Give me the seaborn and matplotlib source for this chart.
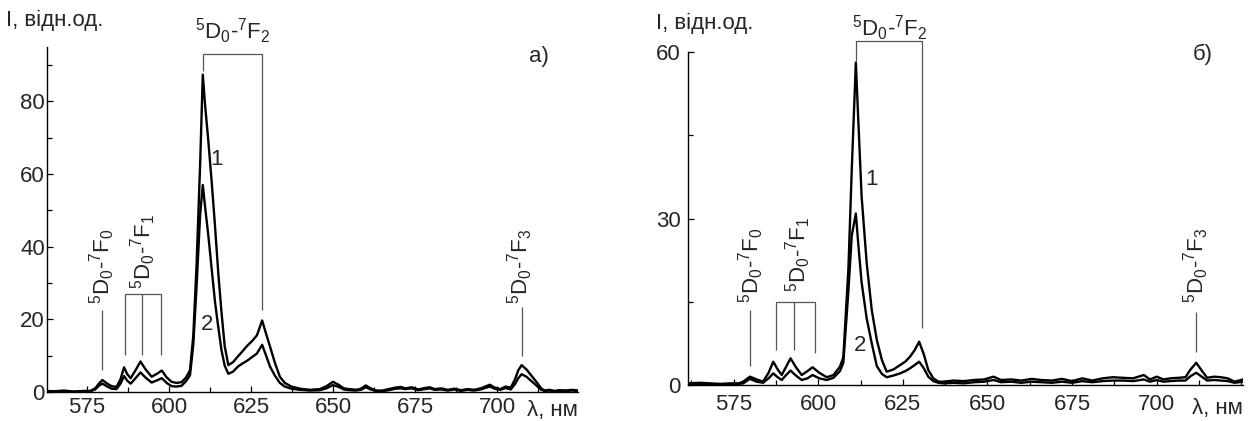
import matplotlib
matplotlib.use("Agg")
import matplotlib.pyplot as plt
from matplotlib.ticker import AutoMinorLocator
import seaborn as sns
import pandas as pd

# ---------------- data (panel a) ----------------
wl_a = [562.5, 565, 568, 571, 574, 576, 577.5, 578.7, 579.7, 581, 582.5, 584, 585.2, 586.3,
        587.2, 588.3, 589.8, 591.3, 592.8, 594.7, 596.3, 597.8, 599.3, 600.8, 602.3, 603.8,
        605.2, 606.4, 607.4, 608.4, 609.5, 610.3, 611, 612, 613, 614, 615, 616, 617, 618.1,
        619.5, 621, 622.3, 623.8, 625.3, 626.8, 628.4, 629.6, 630.8, 632.3, 633.8, 635.3,
        637.3, 640, 643, 646, 648, 650, 651.7, 653.3, 655, 657, 658.5, 660, 661.5, 663, 665,
        667, 669, 670.7, 672, 674, 676, 678, 679.5, 681, 683, 685, 687, 689, 691, 693, 695,
        697.8, 699.3, 701, 702.6, 704.2, 705.5, 706.5, 707.5, 709, 710.5, 712, 713.5, 714.5,
        716, 717.5, 719, 721, 723, 724.7]
a_curve1 = [0.3, 0.2, 0.4, 0.1, 0.3, 0.3, 1.0, 2.4, 3.3, 2.4, 1.6, 1.4, 3.5, 6.8,
            5.0, 3.8, 6.0, 8.4, 6.3, 4.2, 5.0, 5.9, 4.0, 2.8, 2.5, 2.7,
            4.0, 6.0, 15.5, 35, 63, 87.4, 79, 69, 58, 46, 33, 22, 12.5, 7.4,
            8.2, 9.8, 11.1, 12.7, 14.0, 15.6, 19.7, 16, 12.5, 8, 4.2, 2.5,
            1.5, 0.9, 0.6, 0.8, 1.6, 2.8, 2.0, 1.0, 0.8, 0.6, 0.9, 1.8, 1.0, 0.4, 0.4,
            0.8, 1.2, 1.4, 1.0, 1.3, 0.7, 1.1, 1.3, 0.8, 1.0, 0.6, 0.9, 0.5, 0.8, 0.6, 1.0,
            2.0, 1.2, 0.8, 1.5, 1.2, 3.5, 6.0, 7.4, 6.2, 4.5, 2.8, 1.0, 0.4,
            0.6, 0.3, 0.5, 0.4, 0.6, 0.4]
a_curve2 = [0.2, 0.1, 0.2, 0.1, 0.2, 0.2, 0.7, 1.8, 2.3, 1.6, 0.9, 0.8, 2.3, 4.4,
            3.2, 2.3, 3.8, 5.4, 4.0, 2.6, 3.2, 3.8, 2.5, 1.6, 1.5, 1.7,
            3.0, 4.6, 13, 29, 49, 57, 51, 43, 34, 25, 18, 11.5, 7.2, 5,
            5.6, 7.0, 7.8, 8.6, 9.6, 10.6, 13, 10, 7, 4.5, 2.5, 1.5,
            0.9, 0.6, 0.4, 0.5, 1.0, 1.9, 1.4, 0.7, 0.5, 0.4, 0.6, 1.3, 0.7, 0.3, 0.2,
            0.5, 0.9, 1.0, 0.8, 1.0, 0.5, 0.8, 1.0, 0.6, 0.7, 0.4, 0.7, 0.3, 0.6, 0.4, 0.7,
            1.5, 0.9, 0.6, 1.1, 0.7, 2.2, 3.8, 4.9, 4.2, 3.0, 1.8, 0.6, 0.3,
            0.4, 0.2, 0.3, 0.3, 0.4, 0.3]

# ---------------- data (panel b) ----------------
wl_b = [561.5, 565, 568, 571, 574, 576.5, 577.8, 579.8, 581.8, 583.7, 585.3, 586.7, 588,
        589.2, 590.5, 591.8, 593.4, 595.1, 596.8, 598.3, 600.3, 602.5, 604.5, 606.4, 607.4,
        608.9, 609.9, 611.1, 611.8, 612.8, 614.3, 615.8, 617.3, 618.8, 620.2, 622.2, 624.2,
        625.7, 627.1, 628.5, 629.8, 631.2, 632.5, 634, 635.5, 637, 640, 643, 646, 649,
        651.8, 654, 657, 660, 663, 666, 669, 672, 675, 678, 681, 684, 687, 690, 693, 696.2,
        698, 700, 702, 704, 706.5, 708.5, 710, 711.7, 713.3, 714.9, 717, 719, 721, 723, 725.5]
b_curve1 = [0.3, 0.4, 0.3, 0.2, 0.3, 0.3, 0.6, 1.5, 1.0, 0.6, 2.2, 4.2, 2.8,
            1.8, 3.3, 4.8, 3.2, 1.8, 2.5, 3.2, 2.2, 1.4, 1.8, 3.3, 5.0,
            21, 39, 58.1, 48, 34, 22, 13.5, 8.1, 4.5, 2.4, 2.8, 3.6,
            4.2, 5.1, 6.3, 7.8, 5.5, 2.7, 1.2, 0.6, 0.6, 0.8, 0.7, 0.9, 1.0,
            1.5, 0.9, 1.0, 0.8, 1.1, 0.9, 0.8, 1.1, 0.7, 1.2, 0.8, 1.2, 1.4, 1.3, 1.2, 1.8,
            1.0, 1.5, 1.0, 1.2, 1.3, 1.4, 2.8, 4.0, 2.6, 1.3, 1.5, 1.4, 1.2, 0.6, 1.0]
b_curve2 = [0.1, 0.2, 0.1, 0.1, 0.1, 0.2, 0.3, 1.1, 0.6, 0.4, 1.2, 2.1, 1.4,
            0.9, 1.8, 2.6, 1.7, 0.9, 1.2, 1.8, 1.2, 0.9, 1.3, 2.5, 4.0,
            17, 27, 30.9, 25.5, 18.5, 12, 7.5, 3.4, 2.0, 1.4, 1.7, 2.1,
            2.5, 3.0, 3.6, 4.2, 3.0, 1.5, 0.7, 0.4, 0.3, 0.4, 0.3, 0.5, 0.6,
            0.9, 0.5, 0.6, 0.4, 0.6, 0.5, 0.4, 0.6, 0.4, 0.7, 0.5, 0.7, 0.8, 0.8, 0.7, 1.0,
            0.6, 0.9, 0.6, 0.7, 0.8, 0.8, 1.6, 2.2, 1.5, 0.8, 0.9, 0.8, 0.7, 0.4, 0.6]

xticks = [575, 600, 625, 650, 675, 700]
yticks_a = [0, 20, 40, 60, 80]
yticks_b = [0, 30, 60]
ylabel = "I, відн.од."
xlabel = "λ, нм"
lab_F0 = r"$^{5}$D$_{0}$-$^{7}$F$_{0}$"
lab_F1 = r"$^{5}$D$_{0}$-$^{7}$F$_{1}$"
lab_F2 = r"$^{5}$D$_{0}$-$^{7}$F$_{2}$"
lab_F3 = r"$^{5}$D$_{0}$-$^{7}$F$_{3}$"

# ---------------- style ----------------
sns.set_style("ticks")
plt.rcParams["font.family"] = ["Liberation Sans", "DejaVu Sans"]
plt.rcParams["mathtext.fontset"] = "custom"
plt.rcParams["mathtext.rm"] = "Liberation Sans"
plt.rcParams["mathtext.it"] = "Liberation Sans:italic"
plt.rcParams["mathtext.bf"] = "Liberation Sans:bold"
plt.rcParams["mathtext.default"] = "regular"

FS = 16
W, H = 1252, 421
fig = plt.figure(figsize=(W / 100, H / 100), dpi=100)
ax_a = fig.add_axes([47 / W, 1 - 392 / H, (578 - 47) / W, (392 - 47) / H])
ax_b = fig.add_axes([688 / W, 1 - 385 / H, (1243 - 688) / W, (385 - 52) / H])


def make_df(wl, c1, c2):
    return pd.concat([
        pd.DataFrame({"wl": wl, "I": c1, "curve": "1"}),
        pd.DataFrame({"wl": wl, "I": c2, "curve": "2"}),
    ], ignore_index=True)


df_a = make_df(wl_a, a_curve1, a_curve2)
df_b = make_df(wl_b, b_curve1, b_curve2)

for ax, df in ((ax_a, df_a), (ax_b, df_b)):
    sns.lineplot(data=df, x="wl", y="I", hue="curve", palette=["black", "black"],
                 linewidth=1.7, legend=False, ax=ax, sort=False, estimator=None)

ANN = dict(color="#555555", lw=0.9, solid_capstyle="butt", clip_on=False)


def style(ax, xlim, ylim, yticks, ypad, xpad):
    ax.set_xlim(*xlim)
    ax.set_ylim(*ylim)
    ax.set_xticks(xticks)
    ax.set_yticks(yticks)
    ax.xaxis.set_minor_locator(AutoMinorLocator(2))
    ax.yaxis.set_minor_locator(AutoMinorLocator(2))
    ax.tick_params(axis="both", which="both", direction="in", color="black", width=0.9,
                   labelsize=FS)
    ax.tick_params(axis="both", which="major", length=4.5)
    ax.tick_params(axis="both", which="minor", length=3.5)
    ax.tick_params(axis="y", pad=ypad)
    ax.tick_params(axis="x", pad=xpad)
    ax.set_xlabel("")
    ax.set_ylabel("")
    for s in ("top", "right"):
        ax.spines[s].set_visible(False)
    for s in ("left", "bottom"):
        ax.spines[s].set_color("black")
        ax.spines[s].set_linewidth(1.0)


style(ax_a, (562.8, 724.7), (0, 95), yticks_a, 1.5, 3.5)
style(ax_b, (561.5, 725.5), (0, 60), yticks_b, 5.5, 6.5)

# ---------------- annotations panel a ----------------
ax = ax_a
ax.plot([610.3, 610.3, 628.4, 628.4], [88.4, 93.2, 93.2, 22.6], **ANN)
ax.text(619.3, 99.2, lab_F2, ha="center", va="center", fontsize=FS, clip_on=False)
ax.plot([579.7, 579.7], [6.0, 22.6], **ANN)
ax.text(579.7, 24.3, lab_F0, rotation=90, ha="center", va="bottom", fontsize=FS)
ax.plot([586.6, 586.6, 597.6, 597.6], [10.2, 27, 27, 10.2], **ANN)
ax.plot([591.8, 591.8], [10.2, 27], **ANN)
ax.text(592.2, 28.3, lab_F1, rotation=90, ha="center", va="bottom", fontsize=FS)
ax.plot([707.6, 707.6], [10.0, 23.5], **ANN)
ax.text(707.2, 24.3, lab_F3, rotation=90, ha="center", va="bottom", fontsize=FS)
ax.text(614.5, 64, "1", ha="center", va="center", fontsize=FS)
ax.text(611.5, 18.5, "2", ha="center", va="center", fontsize=FS)
ax.text(712.8, 92.4, "а)", ha="center", va="center", fontsize=FS)
ax.text(1.0, -0.022, xlabel, transform=ax.transAxes, ha="right", va="top", fontsize=FS)

# ---------------- annotations panel b ----------------
ax = ax_b
ax.plot([611.2, 611.2, 630.6, 630.6], [58.3, 62.0, 62.0, 10.2], **ANN)
ax.text(621.0, 64.2, lab_F2, ha="center", va="center", fontsize=FS, clip_on=False)
ax.plot([579.8, 579.8], [3.4, 13.5], **ANN)
ax.text(580.2, 14.8, lab_F0, rotation=90, ha="center", va="bottom", fontsize=FS)
ax.plot([587.4, 587.4, 599.1, 599.1], [6.3, 14.9, 14.9, 5.7], **ANN)
ax.plot([592.8, 592.8], [6.3, 14.9], **ANN)
ax.text(594.0, 16.8, lab_F1, rotation=90, ha="center", va="bottom", fontsize=FS)
ax.plot([711.7, 711.7], [6.0, 13.2], **ANN)
ax.text(711.8, 14.8, lab_F3, rotation=90, ha="center", va="bottom", fontsize=FS)
ax.text(615.8, 37, "1", ha="center", va="center", fontsize=FS)
ax.text(612.3, 7.2, "2", ha="center", va="center", fontsize=FS)
ax.text(713.5, 59.6, "б)", ha="center", va="center", fontsize=FS)
ax.text(1.0, -0.04, xlabel, transform=ax.transAxes, ha="right", va="top", fontsize=FS)

fig.text(6 / W, 1 - 20 / H, ylabel, ha="left", va="center", fontsize=FS)
fig.text(656 / W, 1 - 23 / H, ylabel, ha="left", va="center", fontsize=FS)

fig.savefig("out.png", dpi=100, facecolor="white")
